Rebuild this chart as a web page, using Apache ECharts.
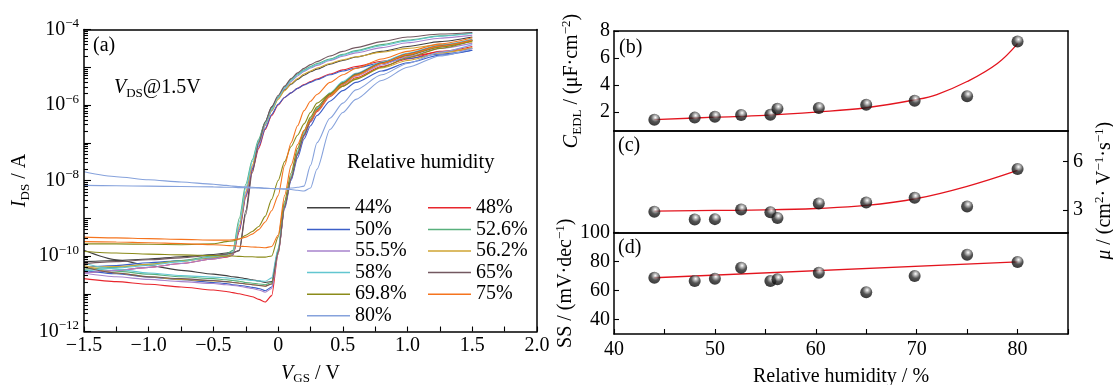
<!DOCTYPE html>
<html><head><meta charset="utf-8">
<script src="https://cdn.jsdelivr.net/npm/echarts@6/dist/echarts.min.js"></script>
<style>html,body{margin:0;padding:0;background:#fff}#c{width:1113px;height:385px}</style>
</head><body><div id="c"></div>
<script>
const FONT = '"Liberation Serif", "Times New Roman", serif';

// ---------- Panel (a): transfer curves, VGS grid (V) and log10(IDS / A) ----------
const vgs = [-1.5,-1.25,-1.0,-0.75,-0.5,-0.4,-0.35,-0.3,-0.25,-0.2,-0.15,-0.1,-0.05,0,0.05,0.1,0.15,0.2,0.25,0.3,0.4,0.5,0.6,0.8,1.0,1.25,1.5];
const humidityNames = ['44%','48%','50%','52.6%','55.5%','56.2%','58%','65%','69.8%','75%','80%'];
// forward sweeps
const fwd44   = [-9.85,-10.1,-10.25,-10.38,-10.48,-10.52,-10.55,-10.57,-10.6,-10.63,-10.66,-10.7,-10.68,-9.85,-8.65,-7.95,-7.3,-6.8,-6.42,-6.12,-5.72,-5.42,-5.2,-4.9,-4.68,-4.46,-4.3];
const fwd48   = [-10.6,-10.68,-10.75,-10.82,-10.9,-10.94,-10.97,-11.0,-11.04,-11.08,-11.15,-11.22,-11.05,-9.95,-8.7,-7.95,-7.3,-6.82,-6.45,-6.18,-5.78,-5.5,-5.28,-4.98,-4.78,-4.58,-4.45];
const fwd50   = [-10.38,-10.47,-10.56,-10.63,-10.7,-10.73,-10.76,-10.78,-10.8,-10.83,-10.86,-10.92,-10.82,-9.9,-8.75,-8.0,-7.4,-6.9,-6.55,-6.28,-5.9,-5.62,-5.4,-5.1,-4.88,-4.68,-4.55];
const fwd52_6 = [-10.3,-10.4,-10.48,-10.55,-10.6,-10.63,-10.65,-10.67,-10.7,-10.72,-10.74,-10.76,-10.7,-9.85,-8.6,-7.9,-7.25,-6.75,-6.38,-6.1,-5.7,-5.4,-5.18,-4.88,-4.66,-4.44,-4.28];
const fwd55_5 = [-10.45,-10.55,-10.62,-10.68,-10.73,-10.76,-10.78,-10.8,-10.83,-10.86,-10.9,-10.96,-10.86,-9.95,-8.7,-7.95,-7.32,-6.82,-6.45,-6.16,-5.76,-5.46,-5.24,-4.94,-4.72,-4.5,-4.36];
const fwd56_2 = [-10.25,-10.45,-10.55,-10.62,-10.66,-10.68,-10.7,-10.72,-10.74,-10.76,-10.78,-10.8,-10.74,-9.9,-8.65,-7.92,-7.28,-6.78,-6.42,-6.14,-5.76,-5.5,-5.3,-5.02,-4.82,-4.62,-4.48];
const fwd58   = [-10.2,-10.35,-10.45,-10.52,-10.56,-10.58,-10.6,-10.62,-10.63,-10.65,-10.66,-10.67,-10.58,-9.8,-8.6,-7.88,-7.22,-6.72,-6.35,-6.08,-5.68,-5.38,-5.16,-4.86,-4.63,-4.41,-4.25];
const fwd65   = [-10.3,-10.45,-10.55,-10.6,-10.65,-10.68,-10.7,-10.72,-10.74,-10.76,-10.78,-10.8,-10.74,-9.9,-8.7,-7.95,-7.3,-6.8,-6.42,-6.14,-5.72,-5.42,-5.18,-4.88,-4.65,-4.43,-4.28];
const fwd69_8 = [-9.88,-9.92,-9.95,-9.97,-9.99,-10.0,-10.0,-10.01,-10.02,-10.02,-10.03,-10.03,-10.0,-9.5,-8.55,-7.8,-7.15,-6.68,-6.32,-6.05,-5.7,-5.42,-5.2,-4.9,-4.68,-4.46,-4.3];
const fwd75   = [-9.62,-9.63,-9.65,-9.67,-9.7,-9.72,-9.73,-9.74,-9.75,-9.76,-9.77,-9.78,-9.75,-9.45,-8.4,-7.6,-7.05,-6.68,-6.4,-6.15,-5.75,-5.45,-5.22,-4.9,-4.66,-4.44,-4.28];
const fwd80   = [-7.77,-7.9,-7.98,-8.04,-8.1,-8.13,-8.15,-8.16,-8.17,-8.18,-8.19,-8.2,-8.21,-8.22,-8.23,-8.24,-8.26,-8.28,-8.2,-7.7,-6.65,-6.2,-5.85,-5.35,-5.0,-4.7,-4.5];
// backward sweeps
const bwd44   = [-10.15,-10.12,-10.08,-10.02,-9.96,-9.92,-9.9,-9.86,-8.8,-7.7,-6.95,-6.45,-6.05,-5.8,-5.6,-5.45,-5.32,-5.21,-5.12,-5.05,-4.92,-4.82,-4.73,-4.58,-4.45,-4.32,-4.2];
const bwd48   = [-10.45,-10.38,-10.3,-10.2,-10.08,-10.03,-9.98,-9.35,-8.45,-7.75,-7.15,-6.65,-6.28,-6.0,-5.8,-5.68,-5.56,-5.46,-5.38,-5.31,-5.18,-5.07,-4.98,-4.84,-4.72,-4.6,-4.5];
const bwd50   = [-10.3,-10.25,-10.18,-10.12,-10.05,-10.0,-9.96,-9.3,-8.4,-7.7,-7.1,-6.62,-6.25,-5.98,-5.8,-5.68,-5.56,-5.47,-5.4,-5.33,-5.2,-5.1,-5.02,-4.88,-4.77,-4.65,-4.55];
const bwd52_6 = [-10.35,-10.3,-10.22,-10.12,-10.0,-9.95,-9.85,-9.0,-8.1,-7.45,-6.9,-6.45,-6.1,-5.78,-5.52,-5.32,-5.18,-5.07,-4.98,-4.9,-4.78,-4.66,-4.56,-4.4,-4.28,-4.17,-4.1];
const bwd55_5 = [-10.45,-10.38,-10.3,-10.2,-10.08,-10.02,-9.97,-9.25,-8.35,-7.65,-7.05,-6.55,-6.15,-5.82,-5.57,-5.38,-5.23,-5.11,-5.02,-4.95,-4.82,-4.71,-4.62,-4.48,-4.35,-4.23,-4.15];
const bwd56_2 = [-10.3,-10.28,-10.22,-10.14,-10.04,-10.0,-9.93,-9.2,-8.3,-7.6,-7.0,-6.52,-6.15,-5.85,-5.62,-5.43,-5.3,-5.18,-5.1,-5.02,-4.9,-4.8,-4.72,-4.6,-4.5,-4.4,-4.33];
const bwd58   = [-10.4,-10.32,-10.25,-10.15,-10.02,-9.97,-9.9,-9.1,-8.2,-7.5,-6.95,-6.5,-6.12,-5.8,-5.55,-5.35,-5.2,-5.09,-5.0,-4.92,-4.8,-4.68,-4.58,-4.43,-4.3,-4.18,-4.1];
const bwd65   = [-10.2,-10.15,-10.1,-10.05,-9.98,-9.95,-9.92,-9.85,-8.9,-7.8,-7.0,-6.45,-6.05,-5.75,-5.5,-5.3,-5.15,-5.03,-4.93,-4.85,-4.7,-4.58,-4.48,-4.32,-4.2,-4.12,-4.08];
const bwd69_8 = [-9.68,-9.68,-9.69,-9.7,-9.68,-9.62,-9.6,-9.55,-9.45,-9.35,-9.22,-8.95,-8.5,-8.0,-7.5,-7.1,-6.8,-6.5,-6.2,-5.95,-5.7,-5.5,-5.32,-5.0,-4.75,-4.5,-4.3];
const bwd75   = [-9.5,-9.52,-9.54,-9.56,-9.58,-9.58,-9.57,-9.55,-9.5,-9.42,-9.3,-9.1,-8.8,-8.4,-7.6,-7.0,-6.55,-6.15,-5.9,-5.72,-5.4,-5.2,-5.03,-4.78,-4.58,-4.38,-4.22];
const bwd80   = [-8.13,-8.14,-8.15,-8.16,-8.17,-8.18,-8.18,-8.19,-8.19,-8.2,-8.2,-8.21,-8.21,-8.22,-8.22,-8.2,-8.18,-8.15,-7.6,-7.0,-6.35,-5.95,-5.6,-5.2,-4.9,-4.6,-4.4];

const fwdSets = [fwd44,fwd48,fwd50,fwd52_6,fwd55_5,fwd56_2,fwd58,fwd65,fwd69_8,fwd75,fwd80];
const bwdSets = [bwd44,bwd48,bwd50,bwd52_6,bwd55_5,bwd56_2,bwd58,bwd65,bwd69_8,bwd75,bwd80];
const lineColors = ['#404040','#e8262d','#3c5fc8','#58b07c','#a783cc','#cfa532','#62c6d0','#735860','#8b8b1a','#f5741e','#86a2dc'];

// ---------- Panels (b)(c)(d) ----------
const rh   = [44, 48, 50, 52.6, 55.5, 56.2, 60.3, 65, 69.8, 75, 80];
const cEDL = [1.44, 1.59, 1.66, 1.78, 1.81, 2.25, 2.30, 2.54, 2.84, 3.18, 7.22];
const mu   = [2.89, 2.41, 2.43, 3.03, 2.85, 2.50, 3.40, 3.46, 3.75, 3.22, 5.54];
const ss   = [68.8, 66.6, 68.1, 75.7, 66.6, 67.7, 72.3, 58.8, 70.0, 84.7, 79.7];
const fitXb = [44, 50, 55, 60, 65, 70, 72, 75, 78, 80];
const fitB  = [1.44, 1.62, 1.76, 2.0, 2.32, 2.93, 3.3, 4.26, 5.6, 7.07];
const fitXc = [44, 50, 55, 60, 65, 70, 75, 80];
const fitC  = [2.93, 2.97, 3.0, 3.09, 3.28, 3.71, 4.47, 5.46];
const fitXd = [44, 80];
const fitD  = [68.8, 79.7];

// tick labels
const logMajor = [1e-12,1e-10,1e-8,1e-6,1e-4];
const logDecades = [1e-12,1e-11,1e-10,1e-9,1e-8,1e-7,1e-6,1e-5,1e-4];
const logMinor = [];
for (let e = -12; e < -4; e++) for (let k = 2; k <= 9; k++) logMinor.push(k * Math.pow(10, e));
const cedlTicks = [2,4,6,8];
const muTicks = [3,6];
const ssTicks = [40,60,80,100];

const RICH = {
  n:   {fontFamily: FONT, fontSize: 20, color: '#000', lineHeight: 24},
  i:   {fontFamily: FONT, fontSize: 20, color: '#000', fontStyle: 'italic', lineHeight: 24},
  sub: {fontFamily: FONT, fontSize: 13, color: '#000', verticalAlign: 'bottom', lineHeight: 13},
  sup: {fontFamily: FONT, fontSize: 13, color: '#000', verticalAlign: 'top', lineHeight: 13}
};
const minus = s => String(s).replace('-', '\u2212');
const lbl = {fontFamily: FONT, fontSize: 20, color: '#000'};
const frameLine = () => ({show: true, onZero: false, lineStyle: {color: '#000', width: 1.5}});
const tickIn = (len) => ({show: true, inside: true, length: len, lineStyle: {color: '#000', width: 1.1}});

const series = [];
humidityNames.forEach((name, k) => {
  [fwdSets[k], bwdSets[k]].forEach(arr => {
    series.push({
      type: 'line', name, xAxisIndex: 0, yAxisIndex: 0,
      data: vgs.map((v, i) => [v, Math.pow(10, arr[i])]),
      showSymbol: false, symbol: 'none', smooth: 0.25, smoothMonotone: 'x',
      lineStyle: {width: 1.1, color: lineColors[k]}, itemStyle: {color: lineColors[k]},
      emphasis: {disabled: true}, z: 1
    });
  });
});

const ball = {
  type: 'radial', x: 0.58, y: 0.32, r: 0.75,
  colorStops: [{offset: 0, color: '#ffffff'}, {offset: 0.18, color: '#b0b0b0'}, {offset: 0.5, color: '#282828'}, {offset: 1, color: '#000'}]
};
const redLine = {width: 1.3, color: '#e3141e'};
[[fitXb, fitB, cEDL, 1, 2], [fitXc, fitC, mu, 2, 3], [fitXd, fitD, ss, 3, 4]].forEach(([fx, fy, pts, xi, yi]) => {
  series.push({type: 'line', xAxisIndex: xi, yAxisIndex: yi, data: fx.map((x, i) => [x, fy[i]]),
    showSymbol: false, symbol: 'none', smooth: 0.4, lineStyle: redLine, z: 3, emphasis: {disabled: true}});
  series.push({type: 'scatter', xAxisIndex: xi, yAxisIndex: yi, data: rh.map((x, i) => [x, pts[i]]),
    symbolSize: 12, itemStyle: {color: ball}, z: 4, emphasis: {disabled: true}});
});

const frameAxis = (g, pos) => ({gridIndex: g, type: 'value', position: pos, min: 0, max: 1, axisLine: frameLine(),
  axisTick: {show: false}, axisLabel: {show: false}, splitLine: {show: false}, silent: true, z: 10});

const option = {
  animation: false,
  backgroundColor: '#fff',
  grid: [
    {left: 84, top: 29.5, width: 453, height: 302, outerBoundsMode: 'none', containLabel: false},
    {left: 614, top: 31, width: 454, height: 100, outerBoundsMode: 'none', containLabel: false},
    {left: 614, top: 131, width: 454, height: 101.5, outerBoundsMode: 'none', containLabel: false},
    {left: 614, top: 232.5, width: 454, height: 101.5, outerBoundsMode: 'none', containLabel: false}
  ],
  xAxis: [
    {gridIndex: 0, type: 'value', min: -1.5, max: 2.0, interval: 0.5, position: 'bottom', z: 10,
     axisLine: frameLine(), axisTick: tickIn(5),
     minorTick: {show: true, splitNumber: 2, length: 5, lineStyle: {color: '#000', width: 1.1}},
     splitLine: {show: false}, minorSplitLine: {show: false},
     axisLabel: Object.assign({margin: 4, formatter: v => v === 0 ? '0' : minus(v.toFixed(1))}, lbl),
     name: '{i|V}{sub|GS}{n| / V}', nameLocation: 'middle', nameGap: 30, nameTextStyle: {rich: RICH}},
    {gridIndex: 1, type: 'value', min: 40, max: 85, position: 'bottom', axisLine: frameLine(), z: 10,
     axisTick: {show: false}, axisLabel: {show: false}, splitLine: {show: false}},
    {gridIndex: 2, type: 'value', min: 40, max: 85, position: 'bottom', axisLine: frameLine(), z: 10,
     axisTick: {show: false}, axisLabel: {show: false}, splitLine: {show: false}},
    {gridIndex: 3, type: 'value', min: 40, max: 85, interval: 5, position: 'bottom', z: 10,
     axisLine: frameLine(), axisTick: tickIn(5), splitLine: {show: false},
     axisLabel: Object.assign({margin: 6, formatter: v => (v % 10 === 0 ? String(v) : '')}, lbl),
     name: '{n|Relative humidity / %}', nameLocation: 'middle', nameGap: 31, nameTextStyle: {rich: RICH}},
    frameAxis(0, 'top'), frameAxis(1, 'top'), frameAxis(2, 'top'), frameAxis(3, 'top')
  ],
  yAxis: [
    {gridIndex: 0, type: 'log', logBase: 10, min: 1e-12, max: 1e-4, position: 'left', z: 10,
     axisLine: frameLine(), splitLine: {show: false},
     axisTick: Object.assign(tickIn(7), {customValues: logDecades}),
     axisLabel: {customValues: logMajor, margin: 5, rich: RICH,
       formatter: v => '{n|10}{sup|\u2212' + (-Math.round(Math.log10(v))) + '}'},
     name: '{i|I}{sub|DS}{n| / A}', nameLocation: 'middle', nameGap: 52, nameTextStyle: {rich: RICH}},
    {gridIndex: 0, type: 'log', logBase: 10, min: 1e-12, max: 1e-4, position: 'left', z: 10,
     axisLine: {show: false, onZero: false}, splitLine: {show: false}, axisLabel: {show: false},
     axisTick: Object.assign(tickIn(4), {customValues: logMinor})},
    {gridIndex: 1, type: 'value', min: 0.6, max: 8, position: 'left', z: 10,
     axisLine: frameLine(), splitLine: {show: false},
     axisTick: Object.assign(tickIn(5), {customValues: cedlTicks}),
     axisLabel: Object.assign({margin: 4, customValues: cedlTicks}, lbl),
     name: '{i|C}{sub|EDL}{n| / (\u03bcF\u00b7cm}{sup|\u22122}{n|)}', nameLocation: 'middle', nameGap: 30, nameTextStyle: {rich: RICH}},
    {gridIndex: 2, type: 'value', min: 1.6, max: 7.9, position: 'right', z: 10,
     axisLine: frameLine(), splitLine: {show: false},
     axisTick: Object.assign(tickIn(5), {customValues: muTicks}),
     axisLabel: Object.assign({margin: 5, customValues: muTicks}, lbl),
     name: '{i|\u03bc}{n| / (cm}{sup|2}{n|\u00b7 V}{sup|\u22121}{n|\u00b7s}{sup|\u22121}{n|)}', nameLocation: 'middle', nameRotate: 90, nameGap: 25,
     nameTextStyle: {rich: RICH, padding: [0, 18, 0, 0]}},
    {gridIndex: 3, type: 'value', min: 30, max: 100, position: 'left', z: 10,
     axisLine: frameLine(), splitLine: {show: false},
     axisTick: Object.assign(tickIn(5), {customValues: ssTicks}),
     axisLabel: Object.assign({margin: 4, customValues: ssTicks}, lbl),
     name: '{n|SS / (mV\u00b7dec}{sup|\u22121}{n|)}', nameLocation: 'middle', nameGap: 30, nameTextStyle: {rich: RICH}},
    frameAxis(0, 'right'), frameAxis(1, 'right'), frameAxis(2, 'left'), frameAxis(3, 'right')
  ],
  legend: [
    {left: 302, top: 192, orient: 'vertical', icon: 'rect', itemWidth: 43, itemHeight: 1.5, itemGap: 0,
     selectedMode: false, data: ['44%','50%','55.5%','58%','69.8%','80%'],
     textStyle: {fontFamily: FONT, fontSize: 20, color: '#000', lineHeight: 21.6}},
    {left: 423, top: 192, orient: 'vertical', icon: 'rect', itemWidth: 43, itemHeight: 1.5, itemGap: 0,
     selectedMode: false, data: ['48%','52.6%','56.2%','65%','75%'],
     textStyle: {fontFamily: FONT, fontSize: 20, color: '#000', lineHeight: 21.6}}
  ],
  graphic: [
    {type: 'text', left: 93, top: 36, style: {text: '(a)', fontFamily: FONT, fontSize: 20, fill: '#000'}},
    {type: 'text', left: 114, top: 78, style: {text: '{i|V}{sub|DS}{n|@1.5V}', rich: RICH}},
    {type: 'text', left: 347, top: 152, style: {text: 'Relative humidity', fontFamily: FONT, fontSize: 20.5, fill: '#000'}},
    {type: 'text', left: 619, top: 38, style: {text: '(b)', fontFamily: FONT, fontSize: 20, fill: '#000'}},
    {type: 'text', left: 618, top: 136, style: {text: '(c)', fontFamily: FONT, fontSize: 20, fill: '#000'}},
    {type: 'text', left: 618, top: 238, style: {text: '(d)', fontFamily: FONT, fontSize: 20, fill: '#000'}}
  ],
  series
};
const chart = echarts.init(document.getElementById('c'), null, {renderer: 'canvas'});
chart.setOption(option);
</script>
</body></html>
